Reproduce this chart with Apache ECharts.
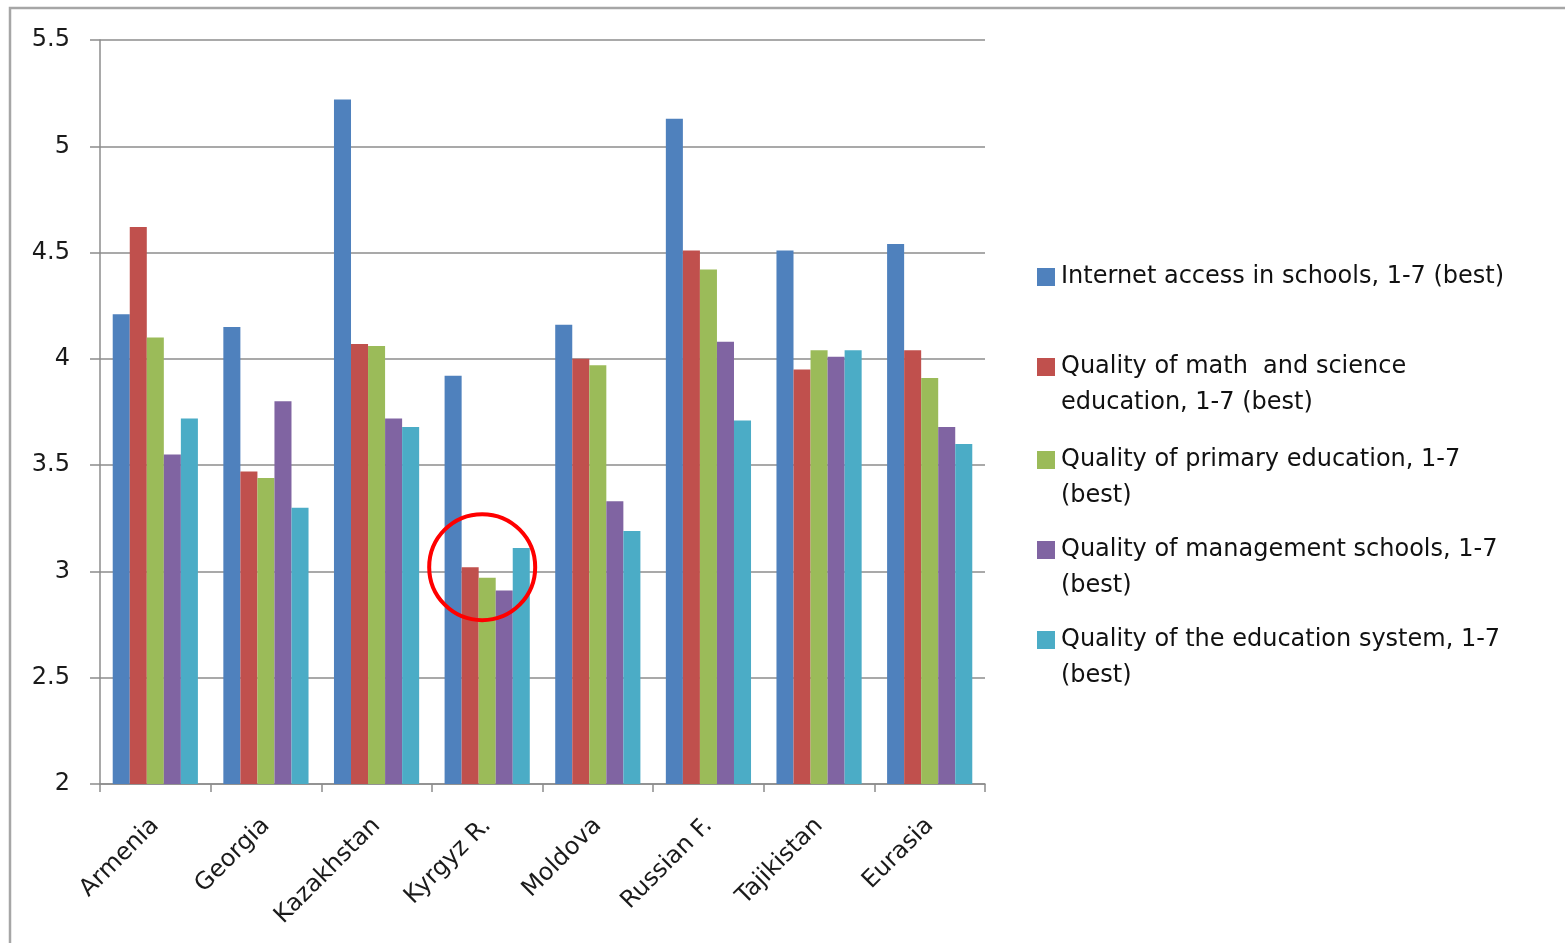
<!DOCTYPE html>
<html>
<head>
<meta charset="utf-8">
<script src="https://cdn.jsdelivr.net/npm/echarts@6/dist/echarts.min.js"></script>
<style>
  html, body { margin: 0; padding: 0; background: #ffffff; }
  #chart { width: 1565px; height: 943px; }
</style>
</head>
<body>
<div id="chart"></div>
<script>
// Education indicators by country (scores on a 1-7 scale, 7 = best)
const categories = ['Armenia', 'Georgia', 'Kazakhstan', 'Kyrgyz R.', 'Moldova', 'Russian F.', 'Tajikistan', 'Eurasia'];

const seriesNames = [
  'Internet access in schools, 1-7 (best)',
  'Quality of math  and science education, 1-7 (best)',
  'Quality of primary education, 1-7 (best)',
  'Quality of management schools, 1-7 (best)',
  'Quality of the education system, 1-7 (best)'
];

// legend wording, broken over lines
const legendLines = [
  ['Internet access in schools, 1-7 (best)'],
  ['Quality of math  and science', 'education, 1-7 (best)'],
  ['Quality of primary education, 1-7', '(best)'],
  ['Quality of management schools, 1-7', '(best)'],
  ['Quality of the education system, 1-7', '(best)']
];

const internetAccess    = [4.21, 4.15, 5.22, 3.92, 4.16, 5.13, 4.51, 4.54];
const mathScience       = [4.62, 3.47, 4.07, 3.02, 4.00, 4.51, 3.95, 4.04];
const primaryEducation  = [4.10, 3.44, 4.06, 2.97, 3.97, 4.42, 4.04, 3.91];
const managementSchools = [3.55, 3.80, 3.72, 2.91, 3.33, 4.08, 4.01, 3.68];
const educationSystem   = [3.72, 3.30, 3.68, 3.11, 3.19, 3.71, 4.04, 3.60];

const yTicks = { min: 2, max: 5.5, interval: 0.5 };

const colors = ['#4F81BD', '#C0504D', '#9BBB59', '#8064A2', '#4BACC6'];
const seriesValues = [internetAccess, mathScience, primaryEducation, managementSchools, educationSystem];

// highlighted group (circled in red)
const highlightCategory = 'Kyrgyz R.';
const highlightValue = 3.02;

const FONT = 'DejaVu Sans';
const chart = echarts.init(document.getElementById('chart'), null, { renderer: 'canvas' });

// one legend block per series so each entry sits at its own height;
// a leading empty line keeps the swatch level with the first text line
const legendFirstLineY = [277, 367, 460, 550, 640];
const LH = 36;
const legends = seriesNames.map((name, i) => {
  const lines = legendLines[i];
  const multi = lines.length > 1;
  return {
    orient: 'vertical',
    left: 1037,
    top: multi ? legendFirstLineY[i] - LH * 1.5 : legendFirstLineY[i] - LH / 2,
    padding: 0,
    itemWidth: 18,
    itemHeight: 18,
    itemGap: 0,
    selectedMode: false,
    icon: 'rect',
    data: [name],
    formatter: () => (multi ? '\n' + lines.join('\n') : lines[0]),
    textStyle: { fontFamily: FONT, fontSize: 24, color: '#111', lineHeight: LH, padding: [0, 0, 0, 1] }
  };
});

chart.setOption({
  animation: false,
  backgroundColor: '#ffffff',
  color: colors,
  legend: legends,
  grid: { left: 100, right: 580, top: 40, bottom: 159, containLabel: false },
  xAxis: {
    type: 'category',
    data: categories,
    boundaryGap: true,
    axisLine: { show: true, lineStyle: { color: '#8c8c8c', width: 1.5 } },
    axisTick: { show: true, interval: 0, alignWithLabel: false, length: 8, lineStyle: { color: '#8c8c8c', width: 1.5 } },
    axisLabel: { interval: 0, rotate: 45, margin: 38, fontFamily: FONT, fontSize: 24, color: '#1a1a1a' },
    splitLine: { show: false }
  },
  yAxis: {
    type: 'value',
    min: yTicks.min,
    max: yTicks.max,
    interval: yTicks.interval,
    axisLine: { show: true, lineStyle: { color: '#8c8c8c', width: 1.5 } },
    axisTick: { show: true, inside: false, length: 10, lineStyle: { color: '#8c8c8c', width: 1.5 } },
    axisLabel: { margin: 30, fontFamily: FONT, fontSize: 24, color: '#1a1a1a' },
    splitLine: { show: true, lineStyle: { color: '#8c8c8c', width: 1.5 } }
  },
  series: seriesNames.map((name, i) => ({
    name: name,
    type: 'bar',
    data: seriesValues[i],
    barGap: '0%',
    barCategoryGap: '23%',
    itemStyle: { color: colors[i] }
  }))
});

// red ring around the highlighted group, anchored through the axes
const ringCenter = chart.convertToPixel({ gridIndex: 0 }, [highlightCategory, highlightValue]);
chart.setOption({
  graphic: [
    {
      type: 'rect',
      silent: true,
      shape: { x: 10, y: 8, width: 1700, height: 1100 },
      style: { fill: 'none', stroke: '#a6a6a6', lineWidth: 2.5 },
      z: 100
    },
    {
      type: 'circle',
      silent: true,
      shape: { cx: ringCenter[0] - 5, cy: ringCenter[1], r: 53 },
      style: { fill: 'none', stroke: '#ff0000', lineWidth: 4 },
      z: 100
    }
  ]
});
</script>
</body>
</html>
